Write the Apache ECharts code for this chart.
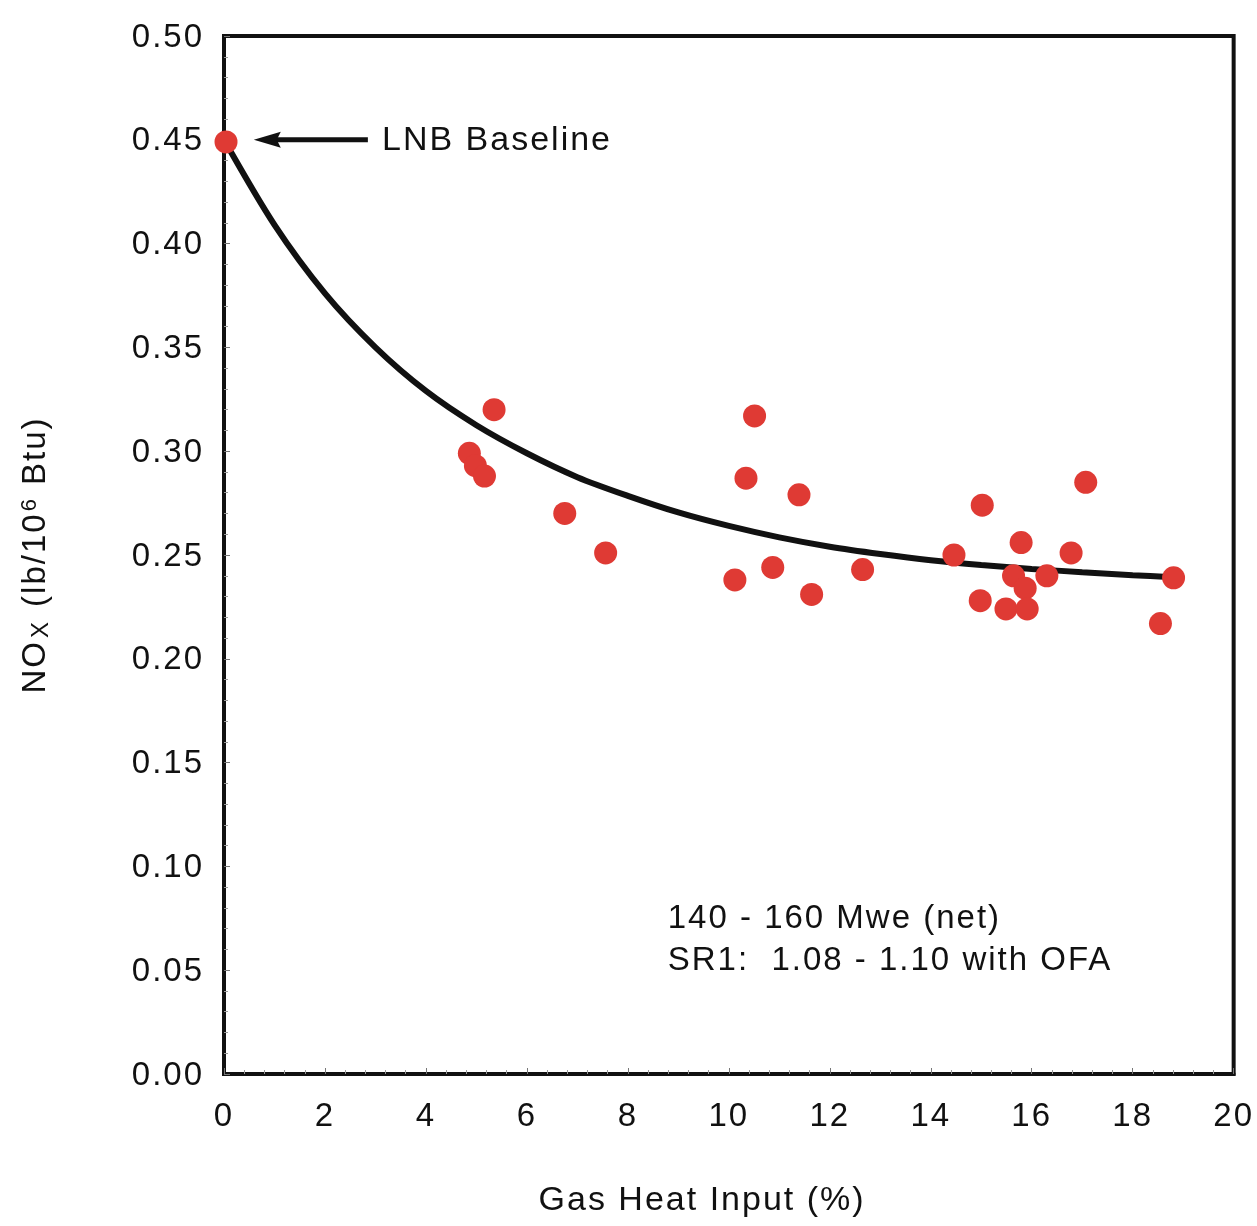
<!DOCTYPE html>
<html><head><meta charset="utf-8">
<script src="https://cdn.jsdelivr.net/npm/echarts@6/dist/echarts.min.js"></script>
<style>html,body{margin:0;padding:0;background:#fff}#c{width:1257px;height:1226px}</style>
</head><body><div id="c"></div>
<script>
// ---- data ----
const baselineX = [0.04];
const baselineY = [0.449];
const testX = [5.35, 4.86, 4.98, 5.16, 6.75, 7.56,
  10.51, 10.34, 11.39, 10.12, 10.87, 11.64, 12.65,
  17.07, 15.02, 15.79, 14.46, 16.78, 15.64, 16.30, 15.87, 18.81, 14.98, 15.49, 15.91, 18.55];
const testY = [0.320, 0.299, 0.293, 0.288, 0.270, 0.251,
  0.317, 0.287, 0.279, 0.238, 0.244, 0.231, 0.243,
  0.285, 0.274, 0.256, 0.250, 0.251, 0.240, 0.240, 0.234, 0.239, 0.228, 0.224, 0.224, 0.217];
const curveX = [0, 1, 2, 3, 4, 5, 6, 7, 8, 9, 10, 11, 12, 13, 14, 15, 16, 17, 18, 18.8];
const curveY = [0.450, 0.409, 0.376, 0.350, 0.329, 0.3125, 0.2990, 0.2875, 0.2785, 0.2705,
  0.2640, 0.2585, 0.2540, 0.2505, 0.2475, 0.2452, 0.2433, 0.2417, 0.2403, 0.2393];
const xMin = 0, xMax = 20, xStep = 2;
const yMin = 0, yMax = 0.5, yStep = 0.05;
const xTitle = 'Gas Heat Input (%)';
const noteLines = ['140 - 160 Mwe (net)', 'SR1:  1.08 - 1.10 with OFA'];
const baselineLabel = 'LNB Baseline';

const FONT = "'Liberation Sans', Arial, sans-serif";
const INK = '#111111';
const RED = '#DF3A34';

// the reference text is letter-spaced: apply spacing to every canvas text draw/measure
(function () {
  const P = CanvasRenderingContext2D.prototype;
  const SP = '2px';
  ['fillText', 'strokeText', 'measureText'].forEach(fn => {
    const orig = P[fn];
    P[fn] = function () {
      try { this.letterSpacing = SP; } catch (e) {}
      return orig.apply(this, arguments);
    };
  });
})();

const zip = (a, b) => a.map((v, i) => [v, b[i]]);

const chart = echarts.init(document.getElementById('c'), null, {renderer: 'canvas'});

chart.setOption({
  animation: false,
  backgroundColor: '#fff',
  grid: {left: 224, top: 36, right: 23, bottom: 152, show: true,
         borderColor: INK, borderWidth: 4, backgroundColor: 'transparent'},
  xAxis: {
    type: 'value', min: xMin, max: xMax, interval: xStep,
    axisLine: {show: true, lineStyle: {color: INK, width: 4}},
    axisTick: {show: true, inside: true, length: 6, lineStyle: {color: '#777'}},
    minorTick: {show: true, splitNumber: 5, length: 4, lineStyle: {color: '#999'}},
    splitLine: {show: false},
    axisLabel: {color: INK, fontFamily: FONT, fontSize: 33, margin: 25,
      formatter: v => String(v)}
  },
  yAxis: {
    type: 'value', min: yMin, max: yMax, interval: yStep,
    axisLine: {show: true, lineStyle: {color: INK, width: 4}},
    axisTick: {show: true, inside: true, length: 6, lineStyle: {color: '#777'}},
    minorTick: {show: true, splitNumber: 5, length: 4, lineStyle: {color: '#999'}},
    splitLine: {show: false},
    axisLabel: {color: INK, fontFamily: FONT, fontSize: 33, margin: 20,
      formatter: v => '{a|' + v.toFixed(2) + '}',
      rich: {a: {fontFamily: FONT, fontSize: 33, color: INK, padding: [3, 0, 0, 0]}}}
  },
  series: [
    {type: 'line', data: zip(curveX, curveY), smooth: 0.3, symbol: 'none',
     lineStyle: {color: INK, width: 6}, z: 2},
    {type: 'scatter', data: zip(testX, testY), symbol: 'circle', symbolSize: 23,
     itemStyle: {color: RED, opacity: 1}, z: 3},
    {type: 'scatter', data: zip(baselineX, baselineY), symbol: 'circle', symbolSize: 23,
     itemStyle: {color: RED, opacity: 1}, z: 3}
  ]
});

const px = (x, y) => chart.convertToPixel({gridIndex: 0}, [x, y]);
const tip = px(0.59, 0.45), tail = px(2.85, 0.45), lbl = px(3.13, 0.45);
const n1 = px(8.79, 0.0756), n2 = px(8.79, 0.0554);
const xt = px(9.47, 0);

chart.setOption({
  graphic: [
    {type: 'line', shape: {x1: tail[0], y1: tail[1], x2: tip[0] + 20, y2: tip[1]},
     style: {stroke: INK, lineWidth: 5}},
    {type: 'polygon', shape: {points: [[tip[0], tip[1]], [tip[0] + 27, tip[1] - 8],
       [tip[0] + 23, tip[1]], [tip[0] + 27, tip[1] + 8]]}, style: {fill: INK}},
    {type: 'text', x: lbl[0], y: lbl[1] + 1,
     style: {text: baselineLabel, fill: INK, font: '34px ' + FONT, align: 'left', verticalAlign: 'middle'}},
    {type: 'text', x: n1[0], y: n1[1] + 2,
     style: {text: noteLines[0], fill: INK, font: '33px ' + FONT, align: 'left', verticalAlign: 'middle'}},
    {type: 'text', x: n2[0], y: n2[1] + 2,
     style: {text: noteLines[1], fill: INK, font: '33px ' + FONT, align: 'left', verticalAlign: 'middle'}},
    {type: 'text', x: xt[0], y: 1201,
     style: {text: xTitle, fill: INK, font: '34px ' + FONT, align: 'center', verticalAlign: 'middle'}},
    {type: 'text', x: 36, y: 555, rotation: Math.PI / 2,
     style: {
       text: '{m|NO}{s|X}{m| (lb/10}{p|6}{m| Btu)}',
       align: 'center', verticalAlign: 'middle', fill: INK,
       rich: {
         m: {fontSize: 33, fontFamily: FONT, color: INK, lineHeight: 36},
         s: {fontSize: 24, fontFamily: FONT, color: INK, lineHeight: 14, verticalAlign: 'bottom', padding: [0, 2, 0, 2]},
         p: {fontSize: 22, fontFamily: FONT, color: INK, lineHeight: 14, verticalAlign: 'top', padding: [0, 1, 0, 1]}
       }
     }}
  ]
});
</script></body></html>
